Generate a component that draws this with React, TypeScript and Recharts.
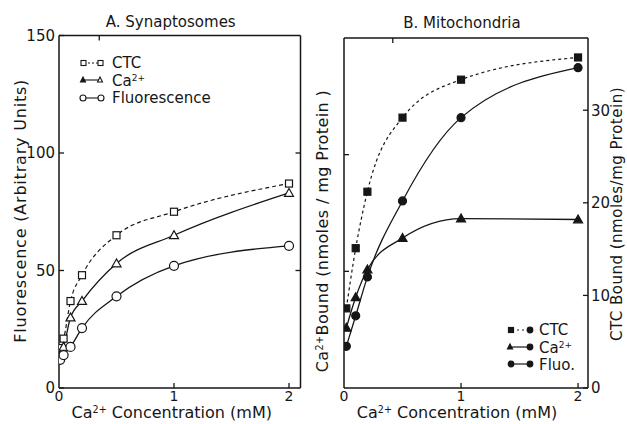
import React from 'react';
import { LineChart, Line, XAxis, YAxis, Legend } from 'recharts';

// Panel A: Synaptosomes
const concA = [0.01, 0.04, 0.1, 0.2, 0.5, 1, 2];
const ctcA = [17, 21, 37, 48, 65, 75, 87];
const caA = [14, 17.5, 30, 37, 53, 65, 83];
const fluoA = [12, 14, 17.5, 25.5, 39, 52, 60.5];

// Panel B: Mitochondria (values in right-axis units)
const concB = [0.02, 0.1, 0.2, 0.5, 1, 2];
const ctcB = [8.6, 15.1, 21.2, 29.2, 33.3, 35.7];
const caB = [6.5, 9.8, 12.8, 16.2, 18.3, 18.2];
const fluoB = [4.5, 7.8, 12.0, 20.2, 29.2, 34.6];

const xTicks = [0, 1, 2];
const yTicksA = [0, 50, 100, 150];
const yTicksARight = [50, 100];
const yTicksBRight = [0, 10, 20, 30];
const yTicksBLeft = [1, 2];

const titleA = 'A. Synaptosomes';
const titleB = 'B. Mitochondria';

const dataA = concA.map((c, i) => ({ conc: c, ctc: ctcA[i], ca: caA[i], fluo: fluoA[i] }));
const dataB = concB.map((c, i) => ({ conc: c, ctc: ctcB[i], ca: caB[i], fluo: fluoB[i] }));

const INK = '#161616';
const FONT = '"DejaVu Sans", sans-serif';

const sq = (filled: boolean) => (p: any) => {
  const { cx, cy, index } = p;
  if (cx == null || cy == null) return <g key={index} />;
  const s = 7;
  return <rect key={index} x={cx - s / 2} y={cy - s / 2} width={s} height={s} fill={filled ? INK : '#fff'} stroke={INK} strokeWidth={1.2} />;
};
const tri = (filled: boolean) => (p: any) => {
  const { cx, cy, index } = p;
  if (cx == null || cy == null) return <g key={index} />;
  const r = 4.5;
  const pts = `${cx},${cy - r} ${cx - r},${cy + r * 0.75} ${cx + r},${cy + r * 0.75}`;
  return <polygon key={index} points={pts} fill={filled ? INK : '#fff'} stroke={INK} strokeWidth={1.2} />;
};
const circ = (filled: boolean) => (p: any) => {
  const { cx, cy, index } = p;
  if (cx == null || cy == null) return <g key={index} />;
  return <circle key={index} cx={cx} cy={cy} r={filled ? 4 : 4.5} fill={filled ? INK : '#fff'} stroke={INK} strokeWidth={1.2} />;
};

const Sup = ({ children }: any) => (
  <tspan baselineShift="super" fontSize="0.6em">{children}</tspan>
);

const leftTick = (p: any) => (
  <g>
    <line x1={p.x} x2={p.x + 5} y1={p.y} y2={p.y} stroke={INK} strokeWidth={1.3} />
    <text x={p.x - 4} y={p.y} dy="0.36em" textAnchor="end" fontSize={15} fontFamily={FONT} fill={INK}>{p.payload.value}</text>
  </g>
);
const rightInTick = (p: any) => (
  <line x1={p.x - 5} x2={p.x} y1={p.y} y2={p.y} stroke={INK} strokeWidth={1.3} />
);
const leftInTick = (p: any) => (
  <line x1={p.x} x2={p.x + 5} y1={p.y} y2={p.y} stroke={INK} strokeWidth={1.3} />
);
const rightLabelTick = (p: any) => (
  <g>
    <line x1={p.x - 5} x2={p.x} y1={p.y} y2={p.y} stroke={INK} strokeWidth={1.3} />
    <text x={p.x + 3} y={p.y} dy="0.36em" textAnchor="start" fontSize={15} fontFamily={FONT} fill={INK}>{p.payload.value}</text>
  </g>
);
const bottomTick = (p: any) => (
  <g>
    {p.payload.value !== 0 && <line x1={p.x} x2={p.x} y1={p.y} y2={p.y - 5} stroke={INK} strokeWidth={1.3} />}
    <text x={p.x} y={p.y} dy={12.5} textAnchor="middle" fontSize={14} fontFamily={FONT} fill={INK}>{p.payload.value}</text>
  </g>
);
const topTick = (p: any) => (
  <line x1={p.x} x2={p.x} y1={p.y} y2={p.y + 5} stroke={INK} strokeWidth={1.3} />
);

const vTitle = (cxOff: number, cyOff: number, content: React.ReactNode, spacing = 0, size = 16) => (props: any) => {
  const vb = props.viewBox || {};
  const cx = vb.x + cxOff;
  const cy = vb.y + vb.height / 2 + cyOff;
  return (
    <text x={cx} y={cy} transform={`rotate(-90, ${cx}, ${cy})`} textAnchor="middle" dy="0.36em" fontSize={size} letterSpacing={spacing} fontFamily={FONT} fill={INK}>
      {content}
    </text>
  );
};
const hTitle = (cxOff: number, yAbs: number, content: React.ReactNode, size = 16) => (props: any) => {
  const vb = props.viewBox || {};
  const cx = vb.x + vb.width / 2 + cxOff;
  return (
    <text x={cx} y={yAbs} textAnchor="middle" fontSize={size} fontFamily={FONT} fill={INK}>
      {content}
    </text>
  );
};

const concTitle = (
  <>
    Ca<Sup>2+</Sup> Concentration (mM)
  </>
);

const legendA = () => (
  <svg width={170} height={60} style={{ overflow: 'visible' }}>
    <g stroke={INK} strokeWidth={1.1} fill="#fff">
      <line x1={14} x2={30} y1={13} y2={13} strokeDasharray="2 2" />
      <rect x={11} y={10.5} width={5} height={5} />
      <rect x={28} y={10.5} width={5} height={5} />
      <line x1={14} x2={30} y1={30} y2={30} />
      <polygon points="13,27 10.5,32 15.5,32" fill={INK} />
      <polygon points="30,27 27.5,32 32.5,32" />
      <line x1={14} x2={30} y1={48} y2={48} />
      <circle cx={13} cy={48} r={3} />
      <circle cx={31} cy={48} r={3} />
    </g>
    <g fontSize={15} fontFamily={FONT} fill={INK}>
      <text x={42} y={13} dy="0.36em">CTC</text>
      <text x={42} y={31} dy="0.36em">Ca<Sup>2+</Sup></text>
      <text x={42} y={48} dy="0.36em">Fluorescence</text>
    </g>
  </svg>
);

const legendB = () => (
  <svg width={110} height={60} style={{ overflow: 'visible' }}>
    <g stroke={INK} strokeWidth={1.2} fill={INK}>
      <line x1={10} x2={27} y1={12} y2={12} strokeDasharray="2 3" />
      <rect x={6.5} y={9.5} width={5} height={5} />
      <circle cx={28} cy={12} r={2.8} />
      <line x1={10} x2={27} y1={29} y2={29} />
      <polygon points="8,26 5.5,31 10.5,31" />
      <circle cx={28} cy={29} r={2.8} />
      <line x1={10} x2={27} y1={46} y2={46} />
      <circle cx={9} cy={46} r={2.8} />
      <circle cx={28} cy={46} r={2.8} />
    </g>
    <g fontSize={15} fontFamily={FONT} fill={INK}>
      <text x={37} y={12} dy="0.36em">CTC</text>
      <text x={37} y={30} dy="0.36em">Ca<Sup>2+</Sup></text>
      <text x={37} y={47} dy="0.36em">Fluo.</text>
    </g>
  </svg>
);

const axisLine = { stroke: INK, strokeWidth: 1.5 };

export default function App() {
  return (
    <div style={{ position: 'absolute', left: 0, top: 0, width: 627, height: 424, background: '#fff' }}>
      <div style={{ position: 'absolute', left: 0, top: 0 }}>
        <LineChart width={313} height={424} data={dataA} margin={{ top: 34.5, right: 0, bottom: 0, left: 0 }}>
          <XAxis dataKey="conc" type="number" domain={[0, 2.1]} ticks={xTicks} interval={0} allowDataOverflow
            height={36} tickSize={0} tickMargin={0} tickLine={false} axisLine={axisLine} tick={bottomTick}
            label={{ content: hTitle(-8, 418, concTitle), position: 'bottom' }} />
          <XAxis xAxisId="top" orientation="top" type="number" domain={[0, 2.1]} ticks={[1]} interval={0} allowDataOverflow
            height={1} tickSize={0} tickMargin={0} tickLine={false} axisLine={axisLine} tick={topTick}
            label={{ content: hTitle(-9, 27, titleA, 15), position: 'top' }} />
          <YAxis type="number" domain={[0, 150]} ticks={yTicksA} interval={0} allowDataOverflow width={59}
            tickSize={0} tickMargin={0} tickLine={false} axisLine={axisLine} tick={leftTick}
            label={{ content: vTitle(20, -1, 'Fluorescence (Arbitrary Units)', 0.8), position: 'left' }} />
          <YAxis yAxisId="r" orientation="right" type="number" domain={[0, 150]} ticks={yTicksARight} interval={0} allowDataOverflow width={12.5}
            tickSize={0} tickMargin={0} tickLine={false} axisLine={axisLine} tick={rightInTick} />
          <Legend layout="horizontal" verticalAlign="middle" align="center" content={legendA}
            wrapperStyle={{ position: 'absolute', left: 70, top: 50, width: 170, height: 60 }} />
          <Line dataKey="ctc" name="CTC" stroke={INK} strokeWidth={1.2} strokeDasharray="4 3" type="monotone" dot={sq(false)} isAnimationActive={false} />
          <Line dataKey="ca" name="Ca2+" stroke={INK} strokeWidth={1.3} type="monotone" dot={tri(false)} isAnimationActive={false} />
          <Line dataKey="fluo" name="Fluorescence" stroke={INK} strokeWidth={1.3} type="monotone" dot={circ(false)} isAnimationActive={false} />
        </LineChart>
      </div>
      <div style={{ position: 'absolute', left: 313, top: 0 }}>
        <LineChart width={314} height={424} data={dataB} margin={{ top: 37, right: 0, bottom: 0, left: 0 }}>
          <XAxis dataKey="conc" type="number" domain={[0, 2.085]} ticks={xTicks} interval={0} allowDataOverflow
            height={36} tickSize={0} tickMargin={0} tickLine={false} axisLine={axisLine} tick={bottomTick}
            label={{ content: hTitle(-9, 418, concTitle), position: 'bottom' }} />
          <XAxis xAxisId="top" orientation="top" type="number" domain={[0, 2.085]} ticks={[1]} interval={0} allowDataOverflow
            height={1} tickSize={0} tickMargin={0} tickLine={false} axisLine={axisLine} tick={topTick}
            label={{ content: hTitle(-4, 28, titleB, 15), position: 'top' }} />
          <YAxis yAxisId="ca" type="number" domain={[0, 3]} ticks={yTicksBLeft} interval={0} allowDataOverflow width={31}
            tickSize={0} tickMargin={0} tickLine={false} axisLine={axisLine} tick={leftInTick}
            label={{ content: vTitle(9, 18, <>Ca<Sup>2+</Sup>Bound (nmoles / mg Protein )</>, 0.4), position: 'left' }} />
          <YAxis yAxisId="ctc" orientation="right" type="number" domain={[0, 37.8]} ticks={yTicksBRight} interval={0} allowDataOverflow width={39}
            tickSize={0} tickMargin={0} tickLine={false} axisLine={axisLine} tick={rightLabelTick}
            label={{ content: vTitle(29, 1, 'CTC Bound (nmoles/mg Protein)', 0.5, 15), position: 'right' }} />
          <Legend layout="horizontal" verticalAlign="middle" align="center" content={legendB}
            wrapperStyle={{ position: 'absolute', left: 189, top: 318, width: 110, height: 60 }} />
          <Line yAxisId="ctc" dataKey="ctc" name="CTC" stroke={INK} strokeWidth={1.2} strokeDasharray="3 3" type="monotone" dot={sq(true)} isAnimationActive={false} />
          <Line yAxisId="ctc" dataKey="ca" name="Ca2+" stroke={INK} strokeWidth={1.3} type="monotone" dot={tri(true)} isAnimationActive={false} />
          <Line yAxisId="ctc" dataKey="fluo" name="Fluo." stroke={INK} strokeWidth={1.3} type="monotone" dot={circ(true)} isAnimationActive={false} />
        </LineChart>
      </div>
    </div>
  );
}
